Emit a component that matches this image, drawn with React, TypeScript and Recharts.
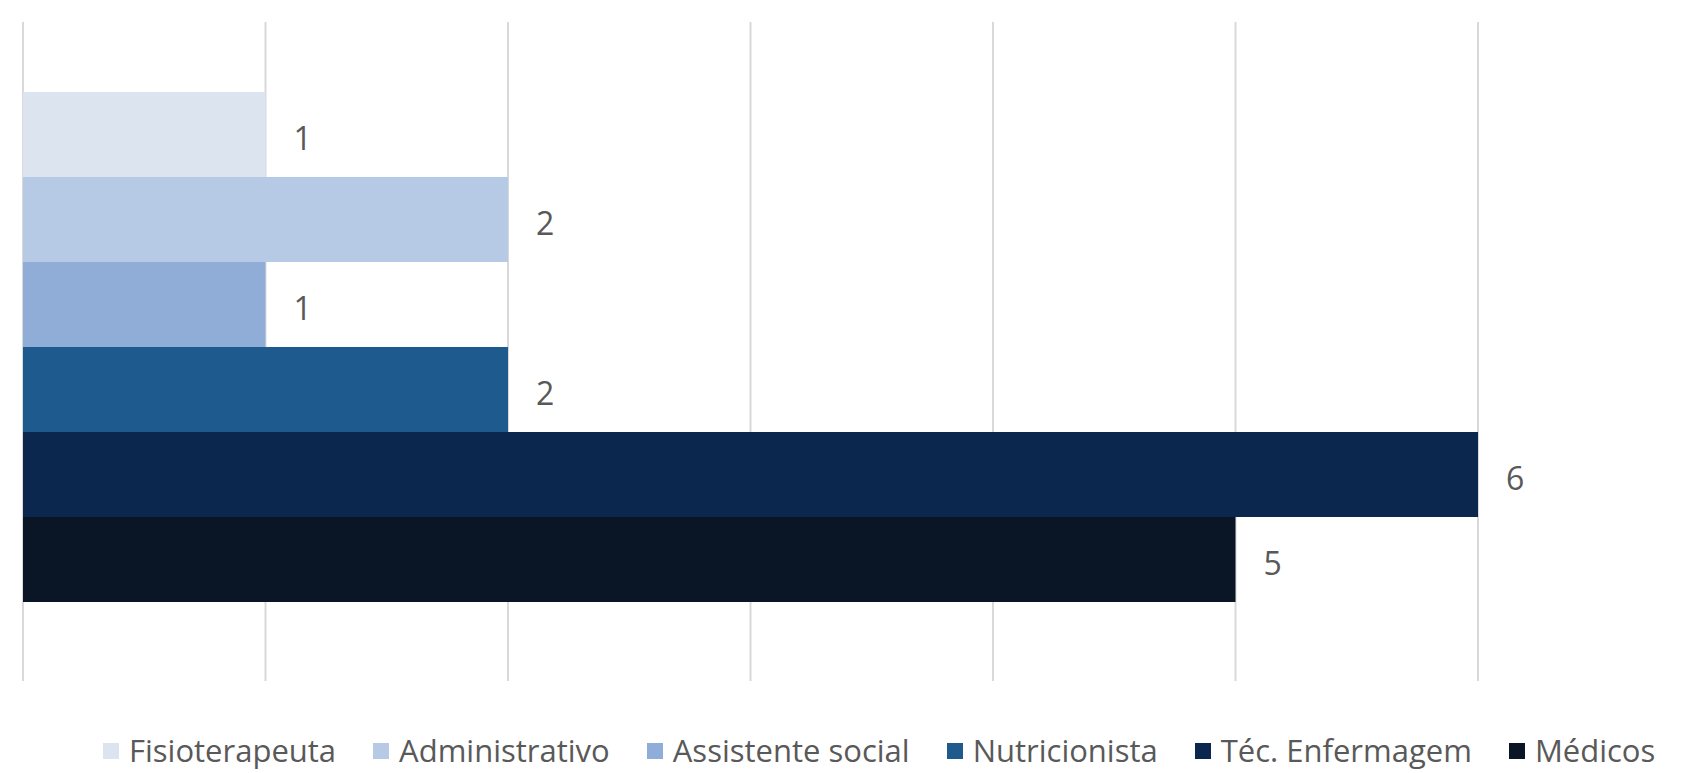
import { BarChart, Bar, XAxis, YAxis, CartesianGrid, LabelList } from 'recharts'

const categorias = ['Fisioterapeuta', 'Administrativo', 'Assistente social', 'Nutricionista', 'Téc. Enfermagem', 'Médicos']
const quantidades = [1, 2, 1, 2, 6, 5]
const cores = ['#dce4f0', '#b6c9e5', '#8fadd6', '#1f5a8e', '#0b274e', '#0a1525']
const ticksX = [0, 1, 2, 3, 4, 5, 6]

const fonte = '"Open Sans", sans-serif'

export default function App() {
	// uma linha só, cada profissão é uma série
	const linha: Record<string, string | number> = { grupo: 'Profissionais' }
	categorias.forEach((c, i) => {
		linha[c] = quantidades[i]
	})
	const dados = [linha]

	return (
		<div style={{ position: 'absolute', left: 0, top: 0, width: 1708, height: 773, background: '#fff' }}>
			<BarChart
				width={1708}
				height={773}
				data={dados}
				layout="vertical"
				margin={{ top: 22, right: 230, bottom: 92, left: 23 }}
				barCategoryGap={70}
				barGap={0}
			>
				<CartesianGrid horizontal={false} stroke="#d9d9d9" strokeWidth={2} />
				<XAxis
					type="number"
					domain={[0, 6]}
					ticks={ticksX}
					tick={() => <g />}
					axisLine={false}
					tickLine={false}
					height={0}
				/>
				<YAxis type="category" dataKey="grupo" hide width={0} padding={{ top: 0, bottom: 10 }} />
				{categorias.map((c, i) => (
					<Bar key={c} dataKey={c} fill={cores[i]} isAnimationActive={false}>
						<LabelList
							dataKey={c}
							position="right"
							offset={28}
							dy={4}
							fill="#595959"
							fontSize={32}
							fontFamily={fonte}
						/>
					</Bar>
				))}
			</BarChart>

			{/* Legenda */}
			<div
				style={{
					position: 'absolute',
					left: 103,
					top: 735,
					display: 'flex',
					alignItems: 'center',
					fontFamily: fonte,
					fontSize: 31,
					lineHeight: '31px',
					color: '#595959',
					whiteSpace: 'nowrap',
				}}
			>
				{categorias.map((c, i) => (
					<div key={c} style={{ display: 'flex', alignItems: 'center', marginRight: 37 }}>
						<span style={{ display: 'inline-block', width: 16, height: 16, background: cores[i], marginRight: 10 }} />
						<span>{c}</span>
					</div>
				))}
			</div>
		</div>
	)
}
